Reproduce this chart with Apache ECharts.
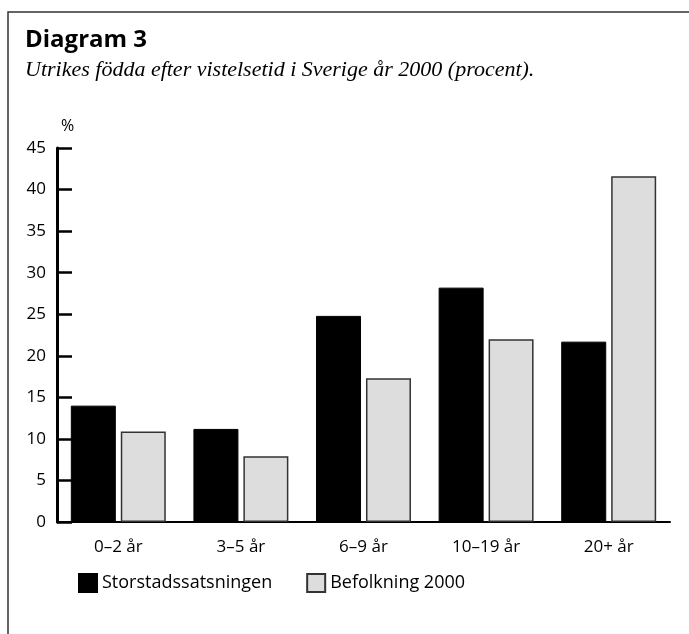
<html>
<head>
	<meta charset="UTF-8">
	<script src="https://cdn.jsdelivr.net/npm/echarts@6/dist/echarts.min.js"></script>
</head>
<body style="margin:0;">
<div id="chart" style="width: 689px;height:634px;"></div>
<script type="text/javascript">
        // kategorier (vistelsetid) och värden i procent
        var categories = ['0\u20132 år', '3\u20135 år', '6\u20139 år', '10\u201319 år', '20+ år'];
        var storstad = [14.0, 11.2, 24.8, 28.2, 21.7];
        var befolkning = [10.9, 7.9, 17.3, 22.0, 41.6];
        var seriesNames = ['Storstadssatsningen', 'Befolkning 2000'];

        var sans = '"Open Sans", "DejaVu Sans", sans-serif';
        var myChart = echarts.init(document.getElementById('chart'));

        var option = {
            animation: false,
            backgroundColor: '#fff',
            title: {
                text: 'Diagram 3',
                subtext: 'Utrikes födda efter vistelsetid i Sverige år 2000 (procent).',
                left: 20,
                top: 23,
                itemGap: 7,
                textStyle: {fontFamily: sans, fontWeight: 'bold', fontSize: 24, color: '#000'},
                subtextStyle: {fontFamily: '"Liberation Serif", serif', fontStyle: 'italic', fontSize: 22, color: '#000'}
            },
            // ram runt diagrammet (vänster och överkant)
            graphic: [{
                type: 'polyline',
                shape: {points: [[8, 634], [8, 12], [689, 12]]},
                style: {stroke: '#333', lineWidth: 1.5, fill: null}
            }],
            legend: {
                data: seriesNames,
                left: 73,
                top: 568,
                itemWidth: 18,
                itemHeight: 18,
                itemGap: 34,
                icon: 'rect',
                textStyle: {fontFamily: sans, fontSize: 18, color: '#000'}
            },
            grid: {left: 57, right: 19, top: 148, bottom: 112, containLabel: false},
            xAxis: {
                type: 'category',
                data: categories,
                axisLine: {lineStyle: {color: '#000', width: 2}},
                axisTick: {inside: true, length: 7, interval: 0, lineStyle: {color: '#000', width: 2}},
                axisLabel: {fontFamily: sans, fontSize: 17, color: '#000', margin: 17}
            },
            yAxis: {
                type: 'value',
                min: 0,
                max: 45,
                interval: 5,
                name: '%',
                nameGap: 14,
                nameTextStyle: {fontFamily: sans, fontSize: 16, color: '#000', align: 'left', padding: [0, 0, 0, 4]},
                axisLine: {show: true, lineStyle: {color: '#000', width: 3}},
                axisTick: {show: true, inside: true, length: 15, lineStyle: {color: '#000', width: 2.5}},
                axisLabel: {fontFamily: sans, fontSize: 17, color: '#000', margin: 11},
                splitLine: {show: false}
            },
            series: [{
                name: seriesNames[0],
                type: 'bar',
                data: storstad,
                barWidth: 45,
                barGap: '11%',
                itemStyle: {color: '#000', borderColor: '#000', borderWidth: 1}
            }, {
                name: seriesNames[1],
                type: 'bar',
                data: befolkning,
                barWidth: 45,
                itemStyle: {color: '#dddddd', borderColor: '#333', borderWidth: 1.5}
            }]
        };

        myChart.setOption(option);
</script>
</body>
</html>
